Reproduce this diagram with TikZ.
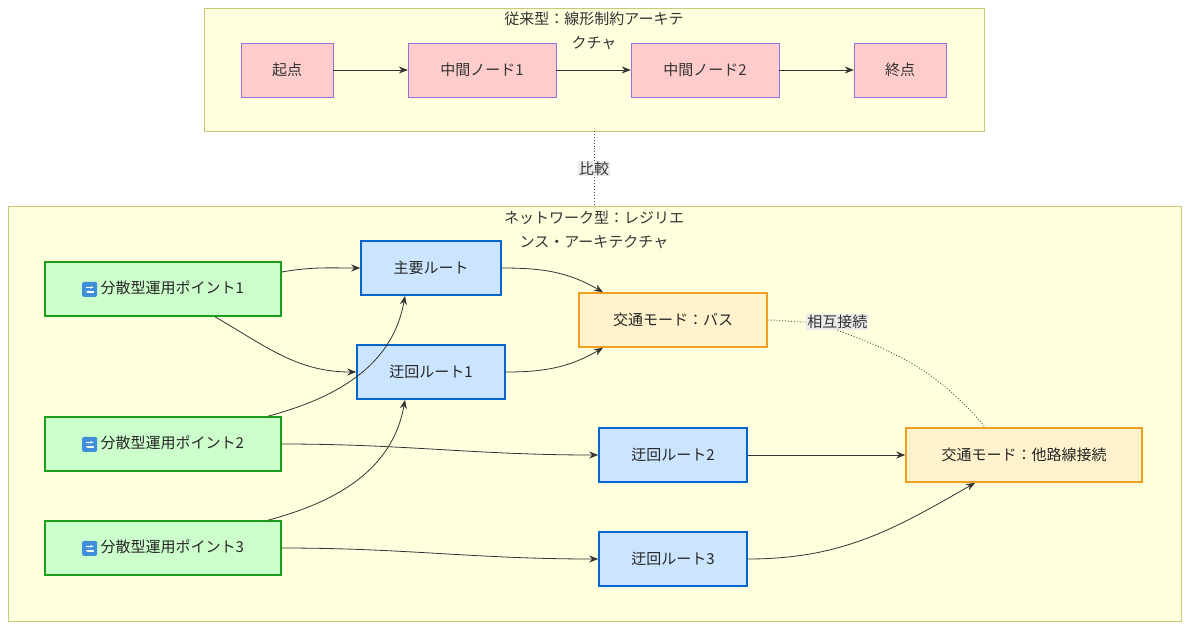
\documentclass[tikz,border=0pt]{standalone}
\usepackage{fontspec}
\setmainfont{Noto Sans CJK JP}
\usetikzlibrary{arrows.meta, positioning}
\definecolor{clusterfill}{HTML}{FFFFDE}
\definecolor{clusterline}{HTML}{C8C878}
\definecolor{linearfill}{HTML}{FFCCCC}
\definecolor{linearline}{HTML}{9370DB}
\definecolor{pointfill}{HTML}{CCFFCC}
\definecolor{pointline}{HTML}{1A9F1A}
\definecolor{routefill}{HTML}{CCE5FF}
\definecolor{routeline}{HTML}{0066CC}
\definecolor{modefill}{HTML}{FFF2CC}
\definecolor{modeline}{HTML}{F0A020}
\definecolor{iconblue}{HTML}{3F8ED8}
\newcommand{\rotateicon}{\tikz[baseline=-4.5pt]{\fill[iconblue,rounded corners=2pt] (-7.5pt,-7.5pt) rectangle (7.5pt,7.5pt);
  \draw[white,line width=1.4pt,-{Stealth[length=3.5pt]}] (-4pt,2pt) -- (4pt,2pt);
  \draw[white,line width=1.4pt,-{Stealth[length=3.5pt]}] (4pt,-2.5pt) -- (-4pt,-2.5pt);}}
\tikzset{
  cluster/.style={draw=clusterline, fill=clusterfill, line width=0.9pt},
  title/.style={text=black!80, font=\fontsize{15}{24}\selectfont, align=center},
  linear/.style={draw=linearline, fill=linearfill, minimum height=54pt, text=black!80, font=\fontsize{15}{17}\selectfont},
  point/.style={draw=pointline, fill=pointfill, line width=1.6pt, minimum width=236pt, minimum height=54pt, text=black!85, font=\fontsize{15}{17}\selectfont},
  route/.style={draw=routeline, fill=routefill, line width=1.6pt, minimum height=54pt, text=black!85, font=\fontsize{15}{17}\selectfont},
  mode/.style={draw=modeline, fill=modefill, line width=1.6pt, minimum height=54pt, text=black!85, font=\fontsize{15}{17}\selectfont},
  link/.style={-{Stealth[length=9pt,width=7pt]}, black!80, line width=0.8pt},
  weak/.style={dotted, black!70, line width=0.9pt},
  tag/.style={fill=black!8, inner sep=1pt, font=\fontsize{15}{17}\selectfont, text=black!80}
}
\begin{document}
\begin{tikzpicture}[x=1pt,y=-1pt]
  \useasboundingbox (0,0) rectangle (1188,629);
  % clusters
  \draw[cluster] (204,8) rectangle (984,131);
  \node[title] (oldtitle) at (594,31) {従来型：線形制約アーキテ\\クチャ};
  \draw[cluster] (8,206) rectangle (1181,621);
  \node[title] (newtitle) at (594,230) {ネットワーク型：レジリエ\\ンス・アーキテクチャ};
  \coordinate (oldbottom) at (594,131);
  \coordinate (newtop) at (594,206);
  % linear chain
  \node[linear, minimum width=92pt]  (start) at (287,70) {起点};
  \node[linear, minimum width=148pt] (mid1)  at (482,70) {中間ノード1};
  \node[linear, minimum width=148pt] (mid2)  at (705,70) {中間ノード2};
  \node[linear, minimum width=92pt]  (goal)  at (900,70) {終点};
  % network
  \node[point] (p1) at (163,289) {\rotateicon\ 分散型運用ポイント1};
  \node[point] (p2) at (163,444) {\rotateicon\ 分散型運用ポイント2};
  \node[point] (p3) at (163,548) {\rotateicon\ 分散型運用ポイント3};
  \node[route, minimum width=140pt] (main)  at (431,268) {主要ルート};
  \node[route, minimum width=148pt] (alt1)  at (431,372) {迂回ルート1};
  \node[route, minimum width=148pt] (alt2)  at (673,455) {迂回ルート2};
  \node[route, minimum width=148pt] (alt3)  at (673,559) {迂回ルート3};
  \node[mode, minimum width=188pt]  (bus)   at (673,320) {交通モード：バス};
  \node[mode, minimum width=236pt]  (other) at (1024,455) {交通モード：他路線接続};

  \draw[link] (start) -- (mid1);
  \draw[link] (mid1) -- (mid2);
  \draw[link] (mid2) -- (goal);

  \draw[link] (p1.east |- 0,272) to[out=10,in=180] (main.west);
  \draw[link] (p1.south -| 215,0) to[out=-30,in=180] (alt1.west);
  \draw[link] (p2.north -| 268,0) to[out=15,in=-100] (main.south -| 405,0);
  \draw[link] (p3.north -| 268,0) to[out=15,in=-100] (alt1.south -| 405,0);
  \draw[link] (p2.east) to[out=0,in=180] (alt2.west);
  \draw[link] (p3.east) to[out=0,in=180] (alt3.west);
  \draw[link] (main.east) to[out=0,in=150] (bus.north -| 603,0);
  \draw[link] (alt1.east) to[out=0,in=-150] (bus.south -| 603,0);
  \draw[link] (alt2) -- (other);
  \draw[link] (alt3.east) to[out=0,in=-150] (other.south -| 975,0);

  \draw[weak] (oldbottom) -- node[tag] {比較} (newtop);
  \draw[weak] (bus.east) to[out=0,in=180] (806,322) node[tag, anchor=west] (mutual) {相互接続};
  \draw[weak] (mutual.south) to[out=-20,in=130] (other.north -| 985,0);
\end{tikzpicture}
\end{document}
